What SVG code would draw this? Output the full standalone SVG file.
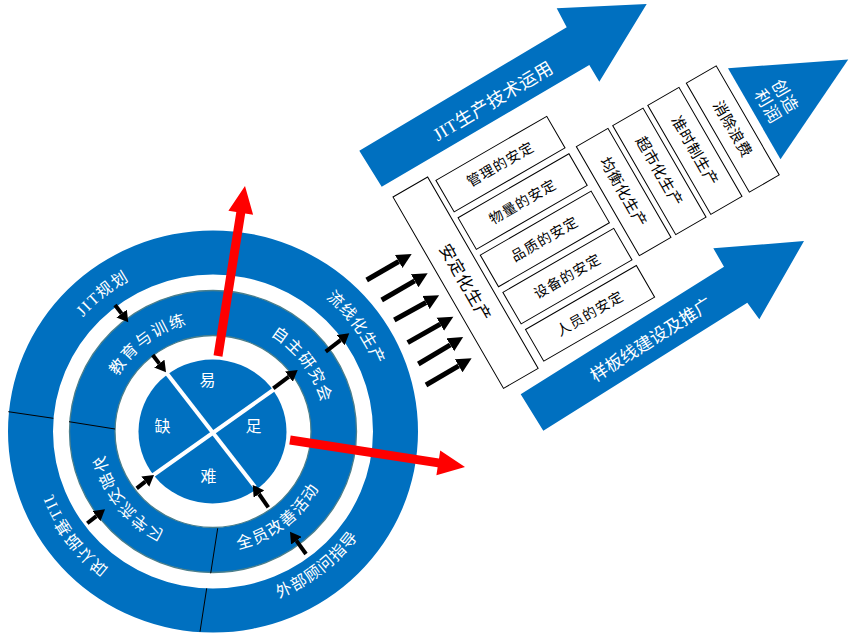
<svg xmlns="http://www.w3.org/2000/svg" width="866" height="636" viewBox="0 0 866 636">
<defs>
<style>
.blue{fill:#0070C0}
.ring{fill:#0070C0;fill-rule:evenodd}
.ring2{fill:#0070C0;fill-rule:evenodd;stroke:#4A7F8C;stroke-width:1.3}
.box{fill:#fff;stroke:#000;stroke-width:1}
.div{stroke:#000;stroke-width:1}
.cross{stroke:#fff;stroke-width:4}
.red{fill:#FF0000}
.bk{stroke:#000;stroke-width:5;fill:none}
.bks{stroke:#000;stroke-width:4;fill:none}
text{font-family:'Liberation Serif','Noto Sans CJK SC',serif}
.wt{fill:#fff}
.kt{fill:#000}
.f14{font-size:14px;letter-spacing:1px}
.f15{font-size:15px;letter-spacing:0.6px}
.f16{font-size:16px;letter-spacing:1px}
.f17{font-size:17px}
.f18{font-size:18px}
</style>
<marker id="ah" markerUnits="userSpaceOnUse" viewBox="0 0 16 16" markerWidth="16" markerHeight="16" refX="0" refY="8" orient="auto">
<path d="M0,0.5 L15,8 L0,15.5 z" fill="#000"/>
</marker>
<marker id="ahs" markerUnits="userSpaceOnUse" viewBox="0 0 12 13" markerWidth="12" markerHeight="13" refX="0" refY="6.5" orient="auto">
<path d="M0,0 L11,6.5 L0,13 z" fill="#000"/>
</marker>
<path id="tp1" d="M49.03,486.69 A173,173 0 0 1 303.13,283.84"/>
<path id="tp2" d="M165.05,263.2 A175,175 0 0 1 357.92,529.61"/>
<path id="tp3" d="M107.53,462.74 A110,110 0 0 1 273.71,339.77"/>
<path id="tp4" d="M180.63,324.28 A112,112 0 0 1 306.72,492.83"/>
<path id="tp5" d="M357.74,338.59 A172,172 0 0 1 161.85,595.73"/>
<path id="tp6" d="M116.82,584.83 A182,182 0 0 0 385.24,375.86"/>
<path id="tp7" d="M307.64,373.5 A111,111 0 0 1 177.78,536.76"/>
<path id="tp8" d="M148,532.37 A120,120 0 0 0 327.64,396.02"/>
</defs>

<!-- Circle -->
<g id="circle">
<g id="outer-ring">
<path class="ring" d="M8,431.5 A205,201 0 1 0 418,431.5 A205,201 0 1 0 8,431.5 Z M53,431.5 A160,157 0 1 1 373,431.5 A160,157 0 1 1 53,431.5 Z"/>
<line class="div" x1="8.3" y1="411.7" x2="53.3" y2="418.3"/>
<line class="div" x1="206.7" y1="588.3" x2="200" y2="631.7"/>
</g>
<g id="middle-ring">
<path class="ring2" d="M69.5,431.5 A143.5,141 0 1 0 356.5,431.5 A143.5,141 0 1 0 69.5,431.5 Z M115,431.5 A98,96 0 1 1 311,431.5 A98,96 0 1 1 115,431.5 Z"/>
<line class="div" x1="69" y1="421.7" x2="115" y2="429"/>
<line class="div" x1="217.7" y1="528.3" x2="210.7" y2="573.3"/>
</g>
<g id="core">
<ellipse class="blue" cx="212.5" cy="431.5" rx="74" ry="72"/>
<line class="cross" x1="166.5" y1="373" x2="255" y2="487"/>
<line class="cross" x1="152" y1="476" x2="276" y2="388"/>
<text class="wt f16" x="208" y="386" text-anchor="middle">易</text>
<text class="wt f16" x="163" y="432" text-anchor="middle">缺</text>
<text class="wt f16" x="254" y="432" text-anchor="middle">足</text>
<text class="wt f16" x="209" y="482" text-anchor="middle">难</text>
</g>
<g id="ring-labels">
<text class="wt f16" style="letter-spacing:1.5px"><textPath href="#tp1" startOffset="50%" text-anchor="middle">JIT规划</textPath></text>
<text class="wt f16"><textPath href="#tp2" startOffset="50%" text-anchor="middle">流线化生产</textPath></text>
<text class="wt f16" style="letter-spacing:2px"><textPath href="#tp3" startOffset="50%" text-anchor="middle">教育与训练</textPath></text>
<text class="wt f16" style="letter-spacing:1.5px"><textPath href="#tp4" startOffset="50%" text-anchor="middle">自主研究会</textPath></text>
<g transform="matrix(-1,0,0,1,426,0)">
<text class="wt f16" style="letter-spacing:1.5px"><textPath href="#tp5" startOffset="50%" text-anchor="middle">JIT基础认知</textPath></text>
<text class="wt f16" style="letter-spacing:1px"><textPath href="#tp7" startOffset="50%" text-anchor="middle">外部交流学习</textPath></text>
</g>
<text class="wt f16"><textPath href="#tp6" startOffset="50%" text-anchor="middle">外部顾问指导</textPath></text>
<text class="wt f16" style="letter-spacing:1.5px"><textPath href="#tp8" startOffset="50%" text-anchor="middle">全员改善活动</textPath></text>
</g>
</g>

<!-- Big blue arrows -->
<g id="arrow-jit">
<polygon class="blue" points="359.3,150.7 566.7,27.3 556.7,8.3 646.7,4 599.3,81.7 589.3,65 381.7,186.7"/>
<text class="wt f18" transform="translate(493,100.7) rotate(-31)" y="6.5" text-anchor="middle" style="letter-spacing:0.5px">JIT生产技术运用</text>
</g>
<g id="arrow-sample">
<polygon class="blue" points="520.7,394.3 724,266.7 713.3,248.3 804,241 759.3,319.3 747.3,302.7 543.3,430.7"/>
<text class="wt f18" transform="translate(651,339.5) rotate(-32.5)" y="6.3" text-anchor="middle" style="font-size:17.5px">样板线建设及推广</text>
</g>

<!-- Right panel -->
<g id="panel" transform="translate(393,197) rotate(-30)">
<g id="stable">
<rect class="box" x="0" y="0" width="40" height="221"/>
<text class="kt" transform="translate(20,110.5) rotate(90)" y="6" text-anchor="middle" style="font-size:16.5px;letter-spacing:0.8px">安定化生产</text>
</g>
<g id="mgmt">
<rect class="box" x="45.5" y="7" width="128" height="36.5"/>
<text class="kt f14" x="109.5" y="30.3" text-anchor="middle">管理的安定</text>
</g>
<g id="material">
<rect class="box" x="46" y="50.5" width="128" height="36.5"/>
<text class="kt f14" x="110" y="73.8" text-anchor="middle">物量的安定</text>
</g>
<g id="quality">
<rect class="box" x="46.5" y="94" width="128" height="36.5"/>
<text class="kt f14" x="110.5" y="117.3" text-anchor="middle">品质的安定</text>
</g>
<g id="equipment">
<rect class="box" x="47.5" y="137.5" width="128" height="36.5"/>
<text class="kt f14" x="111.5" y="160.8" text-anchor="middle">设备的安定</text>
</g>
<g id="people">
<rect class="box" x="48.5" y="181" width="128" height="36.5"/>
<text class="kt f14" x="112.5" y="204.3" text-anchor="middle">人员的安定</text>
</g>
<g id="level">
<rect class="box" x="184" y="48" width="36.5" height="126"/>
<text class="kt f15" transform="translate(202.2,111) rotate(90)" y="5.4" text-anchor="middle">均衡化生产</text>
</g>
<g id="supermarket">
<rect class="box" x="226" y="48" width="35" height="126"/>
<text class="kt f15" transform="translate(243.5,111) rotate(90)" y="5.4" text-anchor="middle">超市化生产</text>
</g>
<g id="jit">
<rect class="box" x="266.5" y="48" width="36" height="126"/>
<text class="kt f15" transform="translate(284.5,111) rotate(90)" y="5.4" text-anchor="middle">准时制生产</text>
</g>
<g id="waste">
<rect class="box" x="311" y="48" width="34.5" height="126"/>
<text class="kt f15" transform="translate(328.2,111) rotate(90)" y="5.4" text-anchor="middle">消除浪费</text>
</g>
<g id="profit">
<polygon class="blue" points="354.5,56 463,108.5 354.5,161"/>
<g transform="translate(380,109) rotate(90)">
<text class="wt f17" y="-4" text-anchor="middle" style="letter-spacing:1px">创造</text>
<text class="wt f17" y="16" text-anchor="middle" style="letter-spacing:1px">利润</text>
</g>
</g>
</g>

<!-- Connectors -->
<g id="connectors">
<g id="push-arrows">
<line class="bk" x1="366.7" y1="280" x2="398.7" y2="261.5" marker-end="url(#ah)"/>
<line class="bk" x1="381.7" y1="300" x2="414.7" y2="280.8" marker-end="url(#ah)"/>
<line class="bk" x1="394.3" y1="320" x2="426" y2="302.5" marker-end="url(#ah)"/>
<line class="bk" x1="407.7" y1="342.7" x2="440.3" y2="324.2" marker-end="url(#ah)"/>
<line class="bk" x1="418.3" y1="364" x2="450.3" y2="344.8" marker-end="url(#ah)"/>
<line class="bk" x1="426" y1="385" x2="458.7" y2="365.8" marker-end="url(#ah)"/>
</g>
<g id="ring-arrows">
<line class="bks" x1="115" y1="305" x2="121.6" y2="313.6" marker-end="url(#ahs)"/>
<line class="bks" x1="152.7" y1="355" x2="159.3" y2="363.6" marker-end="url(#ahs)"/>
<line class="bks" x1="273.3" y1="388.3" x2="288.9" y2="376.6" marker-end="url(#ahs)"/>
<line class="bks" x1="325.7" y1="351.7" x2="340.6" y2="340.1" marker-end="url(#ahs)"/>
<line class="bks" x1="136.7" y1="488.3" x2="145.3" y2="481.7" marker-end="url(#ahs)"/>
<line class="bks" x1="87.3" y1="523.3" x2="96.4" y2="516.1" marker-end="url(#ahs)"/>
<line class="bks" x1="268.3" y1="507.3" x2="259" y2="494" marker-end="url(#ahs)"/>
<line class="bks" x1="306" y1="554" x2="296.4" y2="540.7" marker-end="url(#ahs)"/>
</g>
<g id="red-arrows">
<polygon class="red" points="213.56,355.29 236.32,211.96 228.41,210.71 245,186 253.11,214.63 245.2,213.38 222.44,356.71"/>
<polygon class="red" points="290.69,435.55 439.01,458.43 440.23,450.53 465,467 436.41,475.23 437.63,467.33 289.31,444.45"/>
</g>
</g>
</svg>
